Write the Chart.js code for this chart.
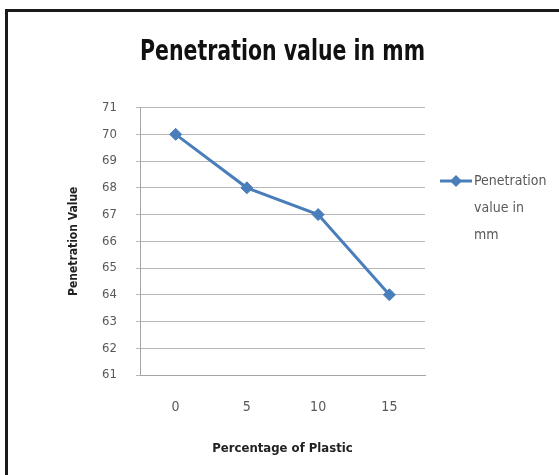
<!DOCTYPE html>
<html>
<head>
<meta charset="utf-8">
<script src="https://cdn.jsdelivr.net/npm/chart.js@4/dist/chart.umd.min.js"></script>
<style>
  html, body { margin: 0; padding: 0; background: #fff; }
  #wrap { width: 559px; height: 475px; }
</style>
</head>
<body>
<div id="wrap"><canvas id="pen-chart" width="559" height="475"></canvas></div>
<script>
var categories = ['0', '5', '10', '15'];
var penetration = [70, 68, 67, 64];
var seriesName = 'Penetration value in mm';
var yMin = 61, yMax = 71;

var FONT = '"Liberation Sans Narrow", "DejaVu Sans Condensed", "Liberation Sans", sans-serif';
var BLUE = '#4a7ebb';
var GREY_TEXT = '#595959';

// black frame along top and left, plus the multi-line legend on the right
var framePlugin = {
  id: 'frame',
  beforeDraw: function (chart) {
    var ctx = chart.ctx;
    ctx.save();
    ctx.fillStyle = '#fff';
    ctx.fillRect(0, 0, chart.width, chart.height);
    ctx.strokeStyle = '#1a1a1a';
    ctx.lineWidth = 3;
    ctx.beginPath();
    ctx.moveTo(6.5, chart.height);
    ctx.lineTo(6.5, 10.5);
    ctx.lineTo(chart.width, 10.5);
    ctx.stroke();
    ctx.restore();
  },
  afterDraw: function (chart) {
    var ctx = chart.ctx;
    var ds = chart.data.datasets[0];
    var x0 = 440, x1 = 472, y = 181;
    ctx.save();
    ctx.strokeStyle = ds.borderColor;
    ctx.lineWidth = ds.borderWidth;
    ctx.beginPath();
    ctx.moveTo(x0, y);
    ctx.lineTo(x1, y);
    ctx.stroke();
    ctx.fillStyle = ds.pointBackgroundColor;
    var r = ds.pointRadius;
    ctx.beginPath();
    ctx.moveTo((x0 + x1) / 2, y - r);
    ctx.lineTo((x0 + x1) / 2 + r, y);
    ctx.lineTo((x0 + x1) / 2, y + r);
    ctx.lineTo((x0 + x1) / 2 - r, y);
    ctx.closePath();
    ctx.fill();

    ctx.font = '14px ' + FONT;
    ctx.fillStyle = GREY_TEXT;
    ctx.textBaseline = 'middle';
    ctx.textAlign = 'left';
    var words = ds.label.split(' ');
    var lines = [], cur = '';
    words.forEach(function (w) {
      var t = cur ? cur + ' ' + w : w;
      if (cur && ctx.measureText(t).width > 76) { lines.push(cur); cur = w; }
      else cur = t;
    });
    lines.push(cur);
    lines.forEach(function (l, i) { ctx.fillText(l, x1 + 2, y + i * 27); });
    ctx.restore();
  }
};

new Chart('pen-chart', {
  type: 'line',
  data: {
    labels: categories,
    datasets: [{
      label: seriesName,
      data: penetration,
      borderColor: BLUE,
      backgroundColor: BLUE,
      pointBackgroundColor: BLUE,
      pointBorderColor: BLUE,
      pointStyle: 'rectRot',
      pointRadius: 6,
      pointBorderWidth: 1,
      borderWidth: 3,
      tension: 0,
      fill: false
    }]
  },
  plugins: [framePlugin],
  options: {
    responsive: false,
    animation: false,
    layout: { padding: { left: 60, right: 134, top: 0, bottom: 0 } },
    plugins: {
      legend: { display: false },
      tooltip: { enabled: false },
      title: {
        display: true,
        text: 'Penetration value in mm',
        fullSize: false,
        color: '#111',
        font: { family: FONT, size: 28, weight: 'bold' },
        padding: { top: 36, bottom: 38 }
      }
    },
    scales: {
      x: {
        type: 'category',
        offset: true,
        afterFit: function (s) { s.height = 100; },
        grid: { display: false },
        border: { display: true, color: '#a6a6a6' },
        ticks: { color: GREY_TEXT, padding: 16, font: { family: FONT, size: 14 } },
        title: {
          display: true,
          text: 'Percentage of Plastic',
          color: '#222',
          font: { family: FONT, size: 13, weight: 'bold' },
          padding: { top: 19, bottom: 19 }
        }
      },
      y: {
        min: yMin,
        max: yMax,
        afterFit: function (s) { s.width = 80; },
        grid: { color: '#b8b8b8', tickLength: 4 },
        border: { color: '#a6a6a6' },
        ticks: { stepSize: 1, color: GREY_TEXT, padding: 19, font: { family: FONT, size: 13 } },
        title: {
          display: true,
          text: 'Penetration Value',
          color: '#222',
          font: { family: FONT, size: 12, weight: 'bold' },
          padding: { top: 7, bottom: 7 }
        }
      }
    }
  }
});
</script>
</body>
</html>
